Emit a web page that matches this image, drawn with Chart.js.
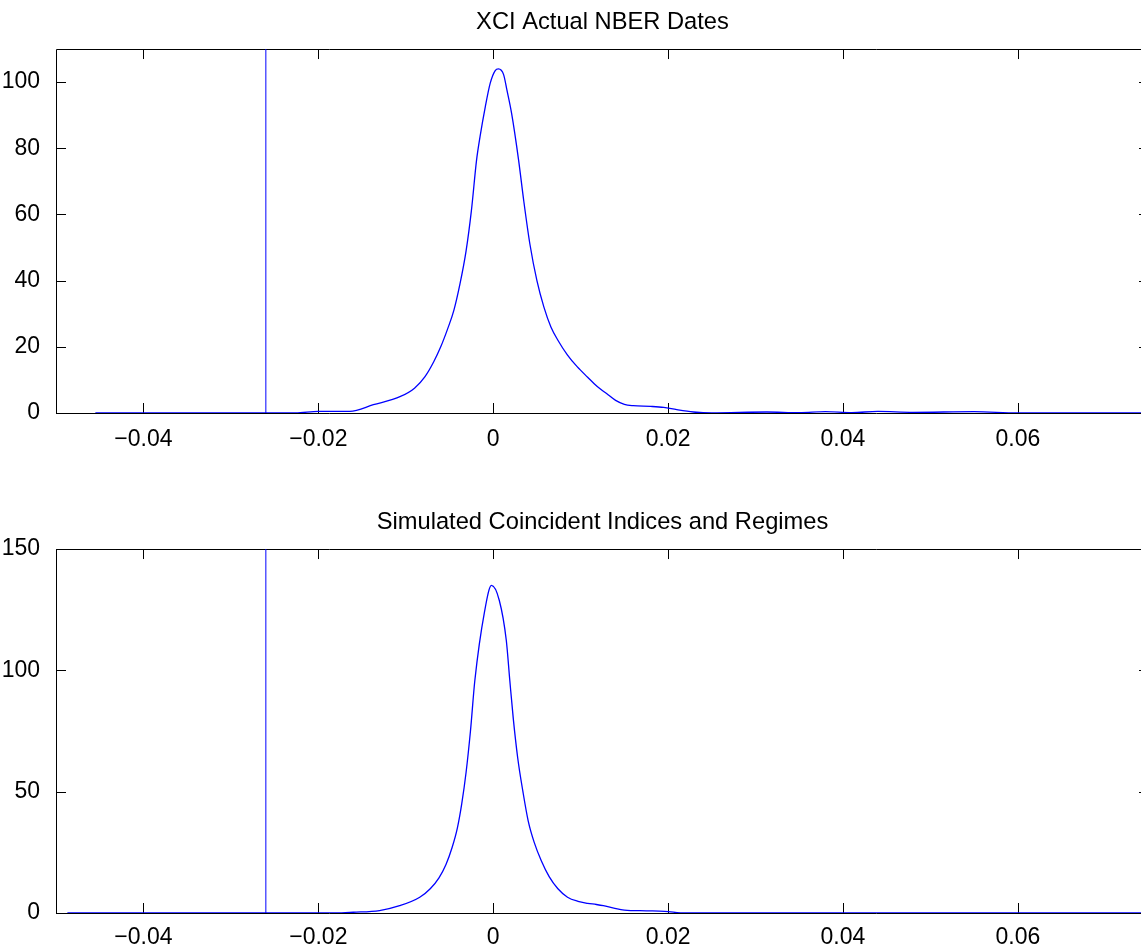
<!DOCTYPE html>
<html>
<head>
<meta charset="utf-8">
<script src="https://cdn.jsdelivr.net/npm/chart.js@4"></script>
<style>
  html, body { margin:0; padding:0; background:#fff; overflow:hidden; width:1141px; height:947px; }
  canvas { position:absolute; left:0; }
  #c1 { top:0; }
  #c2 { top:480px; }
</style>
</head>
<body>
<canvas id="c1" width="1160" height="480"></canvas>
<canvas id="c2" width="1160" height="480"></canvas>
<script>
// ── DATA ──
const titleTop = 'XCI Actual NBER Dates';
const titleBot = 'Simulated Coincident Indices and Regimes';

const xRange = [-0.05, 0.075];
const xTicks = [-0.04, -0.02, 0, 0.02, 0.04, 0.06];

// NBER date marker
const markerX = -0.026;

// top panel density
const xTop = [-0.0455, -0.03, -0.0226, -0.02, -0.0164, -0.0137, -0.0106, -0.009, -0.0078, -0.0068,
  -0.006, -0.0052, -0.0045, -0.0038, -0.0031, -0.0025, -0.0019, -0.0015, -0.0009, -0.00034,
  0.00023, 0.0006, 0.0012, 0.00156, 0.0021, 0.0029, 0.0035, 0.0042, 0.005, 0.0058,
  0.0066, 0.0074, 0.0085, 0.0096, 0.0108, 0.0119, 0.013, 0.014, 0.015, 0.016,
  0.018, 0.0195, 0.021, 0.0229, 0.025, 0.0313, 0.035, 0.038, 0.041, 0.044,
  0.048, 0.055, 0.06, 0.075];
const yTop = [0, 0, 0, 0.5, 0.5, 2.5, 5, 7.5, 11, 15.5,
  20, 25.5, 31, 39, 49, 61, 76.5, 83.6, 92.6, 99.7,
  103.5, 104, 102.2, 97.7, 90.6, 76.5, 64, 51, 40, 32,
  26, 22, 17.5, 14, 10.8, 8, 5.8, 3.8, 2.6, 2.2,
  2.0, 1.7, 1.0, 0.3, 0, 0.3, 0.1, 0.4, 0.1, 0.5,
  0.2, 0.4, 0, 0];
const yTicksTop = [0, 20, 40, 60, 80, 100];
const yMaxTop = 110;

// bottom panel density
const xBot = [-0.0487, -0.018, -0.016, -0.013, -0.0107, -0.0084, -0.0072, -0.0062, -0.0054, -0.0047,
  -0.0041, -0.0036, -0.0031, -0.0026, -0.0021, -0.001, -0.0002, 0.0007, 0.0015, 0.0019,
  0.0023, 0.0028, 0.0034, 0.004, 0.0047, 0.0055, 0.0064, 0.0074, 0.0085, 0.0097,
  0.0108, 0.0118, 0.0126, 0.0138, 0.015, 0.0175, 0.0196, 0.022, 0.075];
const yBot = [0, 0, 0.3, 1, 3, 6.5, 10, 14.5, 20, 27,
  35, 45, 58, 75, 95.8, 124, 135, 128.8, 112.3, 95.8,
  80, 64, 50, 38, 29, 21.5, 15, 10, 6.5, 4.8,
  4, 3.5, 3, 2, 1.2, 0.9, 0.7, 0, 0];
const yTicksBot = [0, 50, 100, 150];
const yMaxBot = 150;

// ── STYLE ──
const FONT = "'Liberation Sans', Arial, Helvetica, sans-serif";
const FS = 23;
const BLUE = '#0000ff';

// frame + inward ticks on all four sides (MATLAB box style)
const framePlugin = {
  id: 'frame',
  beforeDatasetsDraw(chart) {
    const { ctx, chartArea: a, scales: { x, y } } = chart;
    const L = 10;
    ctx.save();
    ctx.strokeStyle = '#000';
    ctx.lineWidth = 1;
    ctx.beginPath();
    ctx.rect(Math.round(a.left) + 0.5, Math.round(a.top) + 0.5, Math.round(a.right - a.left), Math.round(a.bottom - a.top));
    x.ticks.forEach(t => {
      const px = Math.round(x.getPixelForValue(t.value)) + 0.5;
      ctx.moveTo(px, a.bottom); ctx.lineTo(px, a.bottom - L);
      ctx.moveTo(px, a.top); ctx.lineTo(px, a.top + L);
    });
    y.ticks.forEach(t => {
      const py = Math.round(y.getPixelForValue(t.value)) + 0.5;
      ctx.moveTo(a.left, py); ctx.lineTo(a.left + L, py);
      ctx.moveTo(a.right, py); ctx.lineTo(a.right - L, py);
    });
    ctx.stroke();
    ctx.restore();
  }
};

function fmtX(v) {
  if (Math.abs(v) < 1e-9) return '0';
  return (v < 0 ? '\u2212' : '') + Math.abs(v).toFixed(2);
}

function densityChart(id, title, xs, ys, yTicks, yMax, titlePadTop, xAxisH, xPad) {
  const curve = xs.map((x, i) => ({ x, y: ys[i] }));
  const marker = [{ x: markerX, y: 0 }, { x: markerX, y: yMax }];
  return new Chart(document.getElementById(id), {
    type: 'line',
    data: {
      datasets: [
        { data: curve, borderColor: BLUE, borderWidth: 1.3, pointRadius: 0, fill: false, cubicInterpolationMode: 'monotone' },
        { data: marker, borderColor: BLUE, borderWidth: 1, pointRadius: 0, fill: false, tension: 0 },
      ]
    },
    options: {
      responsive: false,
      animation: false,
      devicePixelRatio: 1,
      layout: { padding: { left: 0, right: 11, top: 0, bottom: 0 } },
      plugins: {
        legend: { display: false },
        tooltip: { enabled: false },
        title: {
          display: true, text: title, fullSize: false, color: '#000',
          font: { family: FONT, size: 23.7, weight: 'normal', lineHeight: 1.2 },
          padding: { top: titlePadTop, bottom: 12.6 }
        }
      },
      scales: {
        x: {
          type: 'linear', min: xRange[0], max: xRange[1],
          grid: { display: false }, border: { display: false },
          afterBuildTicks: s => { s.ticks = xTicks.map(v => ({ value: v })); },
          afterFit: s => { s.height = xAxisH; },
          ticks: { color: '#000', padding: xPad, maxRotation: 0, autoSkip: false, font: { family: FONT, size: FS }, callback: v => fmtX(v) }
        },
        y: {
          type: 'linear', min: 0, max: yMax,
          grid: { display: false }, border: { display: false },
          afterBuildTicks: s => { s.ticks = yTicks.map(v => ({ value: v })); },
          afterFit: s => { s.width = 56; },
          ticks: { color: '#000', padding: 8, autoSkip: false, font: { family: FONT, size: FS }, callback: v => String(v) }
        }
      }
    },
    plugins: [framePlugin]
  });
}

densityChart('c1', titleTop, xTop, yTop, yTicksTop, yMaxTop, 8, 67, 5);
densityChart('c2', titleBot, xBot, yBot, yTicksBot, yMaxBot, 28, 47, 3);
</script>
</body>
</html>
